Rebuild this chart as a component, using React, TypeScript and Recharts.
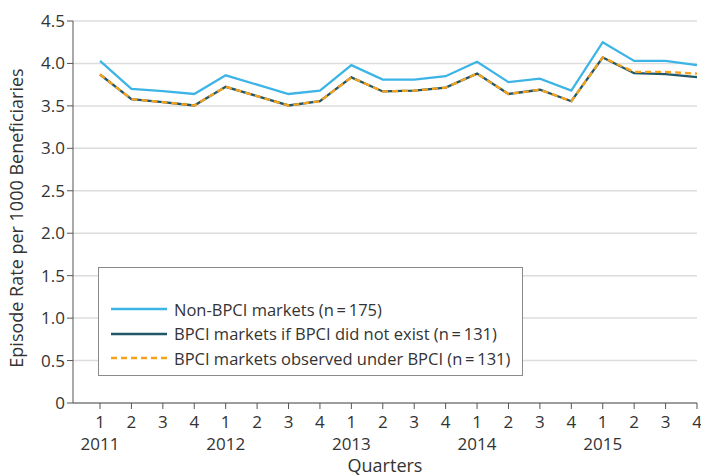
import React from "react";
import { LineChart, Line, XAxis, YAxis, CartesianGrid, Legend } from "recharts";

const quarterIndex = [0, 1, 2, 3, 4, 5, 6, 7, 8, 9, 10, 11, 12, 13, 14, 15, 16, 17, 18, 19];
const quarterLabels = ["1", "2", "3", "4", "1", "2", "3", "4", "1", "2", "3", "4", "1", "2", "3", "4", "1", "2", "3", "4"];
const yearLabels = ["2011", "", "", "", "2012", "", "", "", "2013", "", "", "", "2014", "", "", "", "2015", "", "", ""];
const nonBpci = [4.03, 3.7, 3.675, 3.64, 3.86, 3.75, 3.64, 3.68, 3.98, 3.81, 3.81, 3.85, 4.02, 3.78, 3.82, 3.68, 4.25, 4.03, 4.03, 3.98];
const bpciCounterfactual = [3.87, 3.58, 3.545, 3.505, 3.725, 3.615, 3.505, 3.555, 3.835, 3.67, 3.68, 3.715, 3.88, 3.64, 3.69, 3.555, 4.07, 3.885, 3.875, 3.84];
const bpciObserved = [3.87, 3.58, 3.545, 3.505, 3.725, 3.615, 3.505, 3.555, 3.835, 3.67, 3.68, 3.715, 3.88, 3.64, 3.69, 3.555, 4.07, 3.9, 3.9, 3.88];
const yTicks = [0, 0.5, 1, 1.5, 2, 2.5, 3, 3.5, 4, 4.5];

const seriesNames = [
  "Non-BPCI markets (n\u2009=\u2009175)",
  "BPCI markets if BPCI did not exist (n\u2009=\u2009131)",
  "BPCI markets observed under BPCI (n\u2009=\u2009131)",
];
const yTitle = "Episode Rate per 1000 Beneficiaries";
const xTitle = "Quarters";

const data = quarterIndex.map((i) => ({
  idx: i,
  nonBpci: nonBpci[i],
  counterfactual: bpciCounterfactual[i],
  observed: bpciObserved[i],
}));

const FONT = "'Open Sans', sans-serif";
const TEXT = "#333";
const BLUE = "#3db4e6";
const DARK = "#215769";
const ORANGE = "#f7a21b";

const XTick = (props: any) => {
  const { x, y, payload } = props;
  const i = payload.value;
  return (
    <g>
      <text x={x} y={y + 17} textAnchor="middle" fontSize={17} fill={TEXT} fontFamily={FONT}>
        {quarterLabels[i]}
      </text>
      {yearLabels[i] ? (
        <text x={x} y={y + 39} textAnchor="middle" fontSize={17} fill={TEXT} fontFamily={FONT}>
          {yearLabels[i]}
        </text>
      ) : null}
    </g>
  );
};

const YTitle = (props: any) => {
  const vb = props.viewBox || { x: 0, y: 21, width: 73, height: 382 };
  const cx = 16;
  const cy = vb.y + vb.height / 2 + 6;
  return (
    <text
      x={cx}
      y={cy}
      transform={`rotate(-90, ${cx}, ${cy})`}
      textAnchor="middle"
      dominantBaseline="central"
      fontSize={18}
      fill={TEXT}
      fontFamily={FONT}
    >
      {yTitle}
    </text>
  );
};

const LegendBox = () => {
  const items = [
    { name: seriesNames[0], color: BLUE, dash: "" },
    { name: seriesNames[1], color: DARK, dash: "" },
    { name: seriesNames[2], color: ORANGE, dash: "6 4" },
  ];
  return (
    <div
      style={{
        boxSizing: "border-box",
        width: 425,
        height: 109,
        border: "1.5px solid #8a8a8a",
        background: "#fff",
        paddingTop: 29,
        paddingLeft: 12,
        fontFamily: FONT,
        fontSize: 16.5,
        color: TEXT,
      }}
    >
      {items.map((it) => (
        <div key={it.name} style={{ display: "flex", alignItems: "center", height: 24.5 }}>
          <svg width={56} height={6} style={{ marginRight: 7, flexShrink: 0 }}>
            <line x1={0} y1={3} x2={56} y2={3} stroke={it.color} strokeWidth={2.5} strokeDasharray={it.dash || undefined} />
          </svg>
          <span style={{ whiteSpace: "nowrap" }}>{it.name}</span>
        </div>
      ))}
    </div>
  );
};

export default function App() {
  return (
    <div style={{ position: "relative", width: 701, height: 476 }}>
      <style>{`body{margin:0;background:#fff}`}</style>
      <LineChart width={701} height={476} data={data} margin={{ top: 21, right: 4, bottom: 0, left: 0 }}>
        <CartesianGrid vertical={false} stroke="#dcdcdc" strokeWidth={1.5} />
        <XAxis
          dataKey="idx"
          type="number"
          domain={[0, 19]}
          ticks={quarterIndex}
          interval={0}
          padding={{ left: 27, right: 0 }}
          height={73}
          stroke="#555"
          tickSize={6}
          tick={<XTick />}
          label={{ value: xTitle, position: "insideBottom", offset: 0, fill: TEXT, fontSize: 18, fontFamily: FONT, dy: -4 }}
        />
        <YAxis
          domain={[0, 4.5]}
          ticks={yTicks}
          width={73}
          stroke="#555"
          tickSize={6}
          tick={{ fill: TEXT, fontSize: 17, fontFamily: FONT }}
          tickFormatter={(v: number) => (v === 0 ? "0" : v.toFixed(1))}
          label={{ value: yTitle, content: <YTitle /> }}
        />
        <Legend
          layout="vertical"
          align="center"
          verticalAlign="middle"
          wrapperStyle={{ position: "absolute", left: 98, top: 267, width: 425, height: 109 }}
          content={<LegendBox />}
        />
        <Line type="linear" dataKey="nonBpci" name={seriesNames[0]} stroke={BLUE} strokeWidth={2.3} dot={false} isAnimationActive={false} />
        <Line type="linear" dataKey="counterfactual" name={seriesNames[1]} stroke={DARK} strokeWidth={2.3} dot={false} isAnimationActive={false} />
        <Line type="linear" dataKey="observed" name={seriesNames[2]} stroke={ORANGE} strokeWidth={2.3} strokeDasharray="6 4" dot={false} isAnimationActive={false} />
      </LineChart>
    </div>
  );
}
